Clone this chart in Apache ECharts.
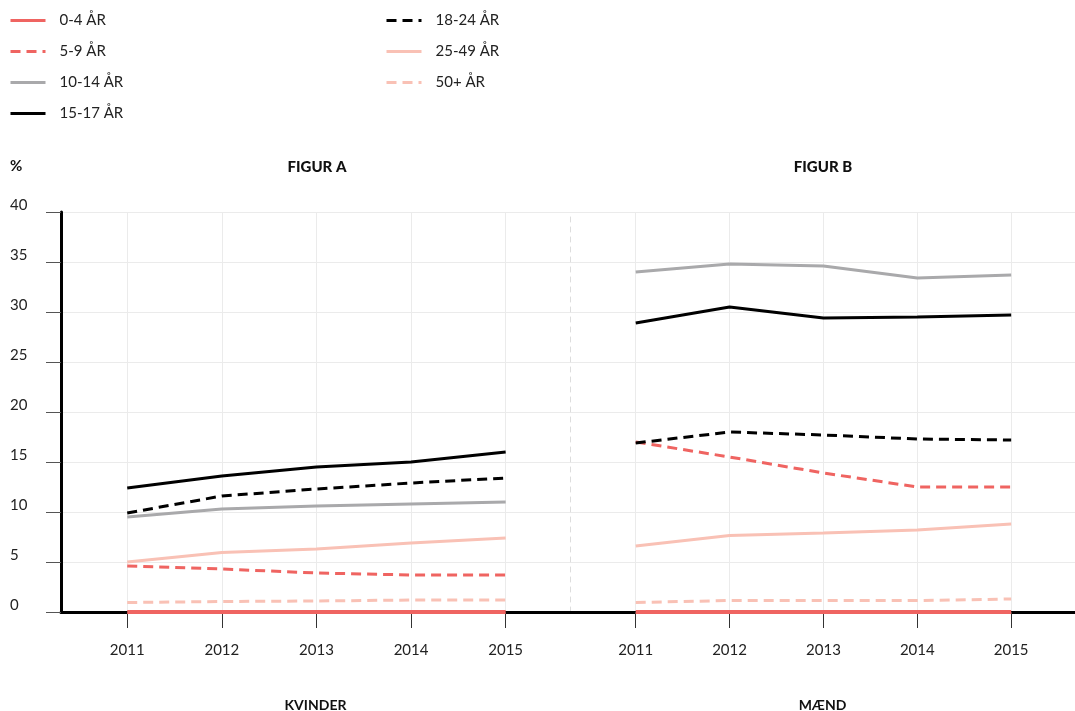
<!DOCTYPE html>
<html><head><meta charset="utf-8">
<script src="https://cdn.jsdelivr.net/npm/echarts@6/dist/echarts.min.js"></script>
<style>html,body{margin:0;padding:0;background:#fff}#c{width:1075px;height:711px}</style>
</head><body><div id="c"></div>
<script>
// ---------- data ----------
const years = [2011, 2012, 2013, 2014, 2015];
const seriesNames = ['0-4 ÅR', '5-9 ÅR', '10-14 ÅR', '15-17 ÅR', '18-24 ÅR', '25-49 ÅR', '50+ ÅR'];
const panelTitles = ['FIGUR A', 'FIGUR B'];
const panelNames = ['KVINDER', 'MÆND'];
const yUnit = '%';

// Figur A – Kvinder
const kvinder_0_4   = [0, 0, 0, 0, 0];
const kvinder_5_9   = [4.6, 4.3, 3.9, 3.7, 3.7];
const kvinder_10_14 = [9.5, 10.3, 10.6, 10.8, 11.0];
const kvinder_15_17 = [12.4, 13.6, 14.5, 15.0, 16.0];
const kvinder_18_24 = [9.9, 11.6, 12.3, 12.9, 13.4];
const kvinder_25_49 = [5.0, 5.95, 6.3, 6.9, 7.4];
const kvinder_50    = [0.95, 1.05, 1.1, 1.2, 1.2];

// Figur B – Mænd
const maend_0_4   = [0, 0, 0, 0, 0];
const maend_5_9   = [17.0, 15.5, 13.9, 12.5, 12.5];
const maend_10_14 = [34.0, 34.8, 34.6, 33.4, 33.7];
const maend_15_17 = [28.9, 30.5, 29.4, 29.5, 29.7];
const maend_18_24 = [16.9, 18.0, 17.7, 17.3, 17.2];
const maend_25_49 = [6.6, 7.65, 7.9, 8.2, 8.8];
const maend_50    = [0.95, 1.15, 1.15, 1.15, 1.3];

// ---------- styling ----------
const RED = '#ef6461', GRAY = '#a9a9ab', BLACK = '#000000', PINK = '#f9c1b5';
const DASH = [10, 6];
const styles = [
  { color: RED, type: 'solid', width: 4 },
  { color: RED, type: DASH, width: 3 },
  { color: GRAY, type: 'solid', width: 3 },
  { color: BLACK, type: 'solid', width: 3 },
  { color: BLACK, type: DASH, width: 3 },
  { color: PINK, type: 'solid', width: 3 },
  { color: PINK, type: DASH, width: 3 }
];
const FONT = 'Lato, "Open Sans", sans-serif';
const panels = [
  [kvinder_0_4, kvinder_5_9, kvinder_10_14, kvinder_15_17, kvinder_18_24, kvinder_25_49, kvinder_50],
  [maend_0_4, maend_5_9, maend_10_14, maend_15_17, maend_18_24, maend_25_49, maend_50]
];

const series = [];
panels.forEach((vals, p) => {
  vals.forEach((arr, i) => {
    series.push({
      name: seriesNames[i], type: 'line', xAxisIndex: p, yAxisIndex: p,
      data: years.map((y, k) => [y, arr[k]]),
      symbol: 'none', smooth: false,
      color: styles[i].color,
      lineStyle: { color: styles[i].color, width: styles[i].width, type: styles[i].type },
      z: 3 + (i === 0 ? 10 : 0)
    });
  });
});

function xAxis(p) {
  return {
    gridIndex: p, type: 'value', min: 2010.3, max: 2015.68,
    axisLine: { onZero: false, lineStyle: { color: '#000', width: 3 } },
    axisTick: { show: true, customValues: years, length: 16, lineStyle: { color: '#333', width: 1 } },
    axisLabel: { customValues: years, margin: 31, fontSize: 15, color: '#222', fontFamily: FONT,
      formatter: v => String(Math.round(v)) },
    splitLine: { show: true, lineStyle: { color: '#ebebeb', width: 1 } },
    name: panelNames[p], nameLocation: 'middle', nameGap: 86,
    nameTextStyle: { fontWeight: 'bold', fontSize: 14, color: '#111', fontFamily: FONT }
  };
}

const legendCommon = {
  orient: 'vertical', top: 13, padding: 0, itemWidth: 35, itemHeight: 14, itemGap: 16,
  itemStyle: { opacity: 0 },
  lineStyle: { width: 3 },
  textStyle: { fontSize: 15, color: '#222', fontFamily: FONT, padding: [0, 0, 0, 9] },
  selectedMode: false
};

const option = {
  animation: false,
  backgroundColor: '#fff',
  legend: [
    Object.assign({}, legendCommon, { data: seriesNames.slice(0, 4), left: 9 }),
    Object.assign({}, legendCommon, { data: seriesNames.slice(4), left: 385 })
  ],
  grid: [
    { left: 61, right: 505, top: 212, bottom: 99, outerBoundsMode: 'none', containLabel: false },
    { left: 570, right: 0, top: 212, bottom: 99, outerBoundsMode: 'none', containLabel: false }
  ],
  xAxis: [xAxis(0), xAxis(1)],
  yAxis: [
    { gridIndex: 0, type: 'value', min: 0, max: 40, interval: 5,
      axisLine: { show: true, lineStyle: { color: '#000', width: 3 } },
      axisTick: { show: true, length: 15, lineStyle: { color: '#555', width: 1 } },
      axisLabel: { align: 'left', margin: 51, verticalAlign: 'bottom', lineHeight: 13, fontSize: 15, color: '#222', fontFamily: FONT },
      splitLine: { show: true, lineStyle: { color: '#ebebeb', width: 1 } } },
    { gridIndex: 1, type: 'value', min: 0, max: 40, interval: 5,
      axisLine: { show: true, lineStyle: { color: '#dddddd', width: 1, type: [5, 5] } },
      axisTick: { show: false }, axisLabel: { show: false },
      splitLine: { show: true, lineStyle: { color: '#ebebeb', width: 1 } } }
  ],
  graphic: [
    { type: 'text', left: 10, top: 159, style: { text: yUnit, font: 'bold 15px ' + FONT, fill: '#111' } },
    { type: 'text', x: 317, y: 167, style: { text: panelTitles[0], font: '900 15px ' + FONT, fill: '#111', textAlign: 'center', textVerticalAlign: 'middle' } },
    { type: 'text', x: 823, y: 167, style: { text: panelTitles[1], font: '900 15px ' + FONT, fill: '#111', textAlign: 'center', textVerticalAlign: 'middle' } }
  ],
  series: series
};
const chart = echarts.init(document.getElementById('c'), null, { renderer: 'canvas' });
chart.setOption(option);
</script></body></html>
